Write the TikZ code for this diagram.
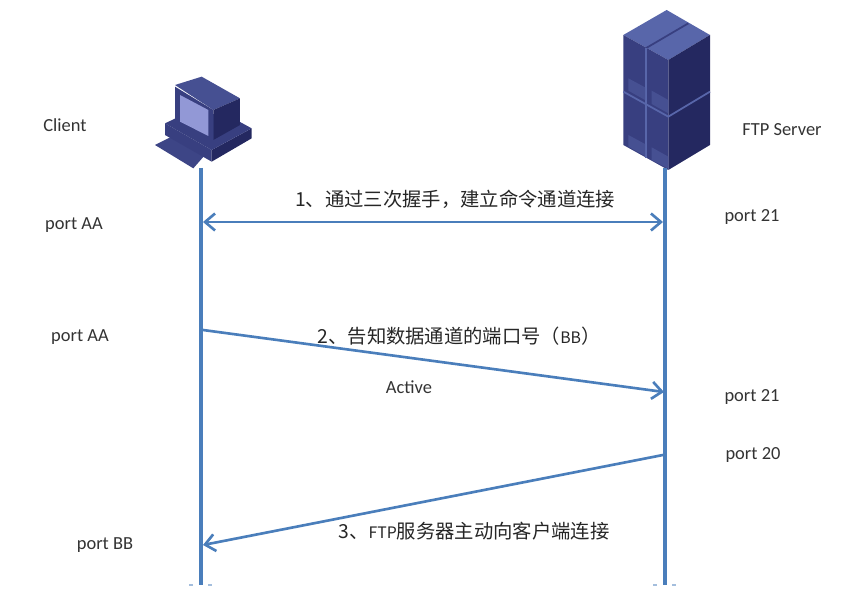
\documentclass[tikz,border=0pt]{standalone}
\usepackage{fontspec}
\setmainfont{Carlito}
\newfontfamily\cjk{Noto Sans CJK SC}
\usepackage{xcolor}
\usetikzlibrary{arrows.meta,positioning}
\definecolor{lifeblue}{RGB}{74,126,187}
\definecolor{iconfront}{RGB}{56,63,128}
\definecolor{icontop}{RGB}{88,102,170}
\definecolor{icondark}{RGB}{36,40,96}
\definecolor{iconscreen}{RGB}{146,152,214}
\definecolor{iconpale}{RGB}{70,80,146}

\begin{document}
\begin{tikzpicture}[
    x=0.02cm, y=-0.02cm,
    lifeline/.style={draw=lifeblue, line width=2.4pt},
    msg/.style={draw=lifeblue, line width=1.5pt, -{Straight Barb[length=2mm,width=3.4mm]}},
    bothmsg/.style={msg, {Straight Barb[length=2mm,width=3.4mm]}-{Straight Barb[length=2mm,width=3.4mm]}},
    tick/.style={draw=lifeblue!50, line width=1pt},
    lbl/.style={font=\fontsize{10.5}{12}\selectfont, text=black!80, inner sep=0pt},
    msglbl/.style={font=\fontsize{11}{13}\cjk, text=black!85, inner sep=0pt},
    small/.style={font=\fontsize{8}{10}\selectfont},
    seam/.style={draw=icontop, line width=1pt},
]
\useasboundingbox (0,0) rectangle (865,601);

% client icon
\begin{scope}[shift={(130,60)}, x=0.00667cm, y=-0.00667cm]
\fill[iconfront!85!icontop] (75,255) -- (125,230) -- (225,285) -- (190,325) -- cycle;
\fill[iconfront] (105,190) -- (245,270) -- (245,305) -- (105,225) -- cycle;
\fill[icondark] (245,270) -- (365,205) -- (365,235) -- (245,305) -- cycle;
\fill[iconfront] (105,190) -- (190,150) -- (310,175) -- (365,205) -- (245,270) -- cycle;
\fill[iconpale] (135,75) -- (215,50) -- (330,115) -- (250,150) -- cycle;
\fill[icondark] (250,150) -- (330,115) -- (330,195) -- (250,240) -- cycle;
\fill[iconfront] (135,80) -- (250,150) -- (250,245) -- (135,195) -- cycle;
\fill[iconscreen] (150,105) -- (235,150) -- (235,228) -- (150,185) -- cycle;
\end{scope}

% server icon
\begin{scope}[shift={(600,0)}, x=0.00667cm, y=-0.00667cm]
\fill[icontop] (70,105) -- (200,30) -- (330,105) -- (205,180) -- cycle;
\fill[icondark] (205,180) -- (330,105) -- (330,435) -- (205,510) -- cycle;
\fill[iconfront] (70,105) -- (205,180) -- (205,510) -- (70,435) -- cycle;
\draw[draw=iconfront, line width=1pt] (137,145) -- (265,70);
\draw[seam] (137,145) -- (137,475);
\draw[seam] (70,275) -- (205,350) -- (330,275);
\fill[iconpale] (85,235) -- (135,262) -- (135,300) -- (85,272) -- cycle;
\fill[iconpale] (155,272) -- (205,300) -- (205,340) -- (155,312) -- cycle;
\fill[iconpale] (85,405) -- (135,432) -- (135,468) -- (85,440) -- cycle;
\fill[iconpale] (155,442) -- (205,470) -- (205,506) -- (155,480) -- cycle;
\end{scope}

% lifelines
\coordinate (clientTop) at (201,168);
\coordinate (clientEnd) at (201,585);
\coordinate (serverTop) at (665,168);
\coordinate (serverEnd) at (665,585);
\draw[lifeline] (clientTop) -- (clientEnd);
\draw[lifeline] (serverTop) -- (serverEnd);
\draw[tick] (189,585) -- (193,585) (208,585) -- (212,585);
\draw[tick] (653,585) -- (657,585) (672,585) -- (676,585);

% arrow ends
\coordinate (c1) at (203,222);
\coordinate (s1) at (663,222);
\coordinate (c2) at (203,330);
\coordinate (s2) at (664,392);
\coordinate (s3) at (663,455);
\coordinate (c3) at (203,545);
\draw[bothmsg] (c1) -- (s1);
\draw[msg] (c2) -- (s2);
\draw[msg] (s3) -- (c3);

% labels
\node[lbl] (client) at (65,125) {Client};
\node[lbl] (server) at (782,130) {FTP Server};
\node[lbl] (portA) at (74,225) {port AA};
\node[lbl] (portB) at (80,337) {port AA};
\node[lbl] (portC) at (105,545) {port BB};
\node[lbl] (port21a) at (752,217) {port 21};
\node[lbl] (port21b) at (752,397) {port 21};
\node[lbl] (port20) at (753,455) {port 20};
\node[lbl] (active) at (409,387) {Active};
\node[msglbl] (msg1) at (455,199) {1、通过三次握手，建立命令通道连接};
\node[msglbl] (msg2) at (459,336) {2、告知数据通道的端口号（{\small BB}）};
\node[msglbl] (msg3) at (474,531) {3、{\fontsize{9}{11}\selectfont FTP}服务器主动向客户端连接};
\end{tikzpicture}
\end{document}
